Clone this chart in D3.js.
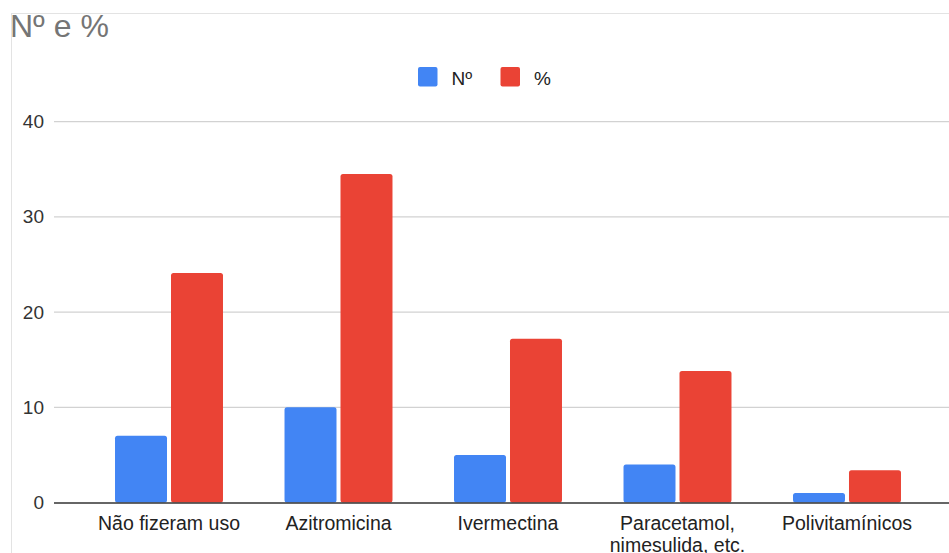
<!DOCTYPE html>
<html>
<head>
<meta charset="utf-8">
<script src="https://cdn.jsdelivr.net/npm/d3@7"></script>
<style>
  html, body { margin: 0; padding: 0; background: #ffffff; }
  svg { display: block; font-family: Arial, "Liberation Sans", sans-serif; }
</style>
</head>
<body>
<svg id="chart" width="949" height="553"></svg>
<script>
const title = "Nº e %";
const categories = ["Não fizeram uso", "Azitromicina", "Ivermectina", "Paracetamol, nimesulida, etc.", "Polivitamínicos"];
const categoryLines = [["Não fizeram uso"], ["Azitromicina"], ["Ivermectina"], ["Paracetamol,", "nimesulida, etc."], ["Polivitamínicos"]];
const seriesNames = ["Nº", "%"];
const seriesColors = ["#4285F4", "#EA4335"];
const valuesN = [7, 10, 5, 4, 1];
const valuesPct = [24.1, 34.5, 17.2, 13.8, 3.4];
const yTicks = [0, 10, 20, 30, 40];

const svg = d3.select("#chart");

// frame lines (cropped chart border)
svg.append("line").attr("x1", 11).attr("x2", 949).attr("y1", 13.5).attr("y2", 13.5)
  .attr("stroke", "#e3e3e3").attr("stroke-width", 1);
svg.append("line").attr("x1", 11.5).attr("x2", 11.5).attr("y1", 13).attr("y2", 553)
  .attr("stroke", "#e3e3e3").attr("stroke-width", 1);

// title
svg.append("text").attr("x", 10).attr("y", 37)
  .attr("font-size", 32).attr("fill", "#757575").text(title);

const y = d3.scaleLinear().domain([0, 40]).range([502.5, 121.7]);
const x0 = d3.scaleBand().domain(categories).range([54, 962]).paddingInner(0.363).paddingOuter(0.36);
const x1 = d3.scaleBand().domain(seriesNames).range([0, x0.bandwidth()]).paddingInner(0.0714);

// gridlines
const yAxis = d3.axisLeft(y).tickValues(yTicks).tickSize(0).tickPadding(0);
const gridG = svg.append("g");
gridG.selectAll("line").data(yTicks.filter(t => t !== 0)).join("line")
  .attr("x1", 54).attr("x2", 949)
  .attr("y1", d => y(d)).attr("y2", d => y(d))
  .attr("stroke", "#d2d2d2").attr("stroke-width", 1.3);

const axG = svg.append("g").attr("transform", "translate(44,0)").call(yAxis);
axG.select(".domain").remove();
axG.selectAll("text").attr("font-size", 19).attr("fill", "#333").attr("dx", 0)
  .attr("font-family", "Arial, 'Liberation Sans', sans-serif");

// bars
const data = categories.map((c, i) => ({ cat: c, vals: [valuesN[i], valuesPct[i]] }));
const groups = svg.append("g").selectAll("g").data(data).join("g")
  .attr("transform", d => `translate(${x0(d.cat)},0)`);
groups.selectAll("rect").data(d => d.vals.map((v, j) => ({ s: seriesNames[j], v, j })))
  .join("rect")
  .attr("x", d => x1(d.s))
  .attr("width", x1.bandwidth())
  .attr("y", d => y(d.v))
  .attr("height", d => y(0) - y(d.v))
  .attr("rx", 2.5)
  .attr("fill", d => seriesColors[d.j]);

// baseline
svg.append("line").attr("x1", 54).attr("x2", 949).attr("y1", y(0) + 0.5).attr("y2", y(0) + 0.5)
  .attr("stroke", "#333").attr("stroke-width", 1.6);

// x labels
const xl = svg.append("g");
categories.forEach((c, i) => {
  const cx = x0(c) + x0.bandwidth() / 2;
  const t = xl.append("text").attr("text-anchor", "middle").attr("font-size", 19.5).attr("fill", "#222");
  categoryLines[i].forEach((line, k) => {
    t.append("tspan").attr("x", cx).attr("y", 530 + k * 21.5).text(line);
  });
});

// legend
const legend = svg.append("g");
const legX = [418, 500.5];
seriesNames.forEach((s, i) => {
  legend.append("rect").attr("x", legX[i]).attr("y", 67).attr("width", 19.5).attr("height", 19.5)
    .attr("rx", 2).attr("fill", seriesColors[i]);
  legend.append("text").attr("x", legX[i] + 33.5).attr("y", 85)
    .attr("font-size", 19).attr("fill", "#222").text(s);
});
</script>
</body>
</html>
